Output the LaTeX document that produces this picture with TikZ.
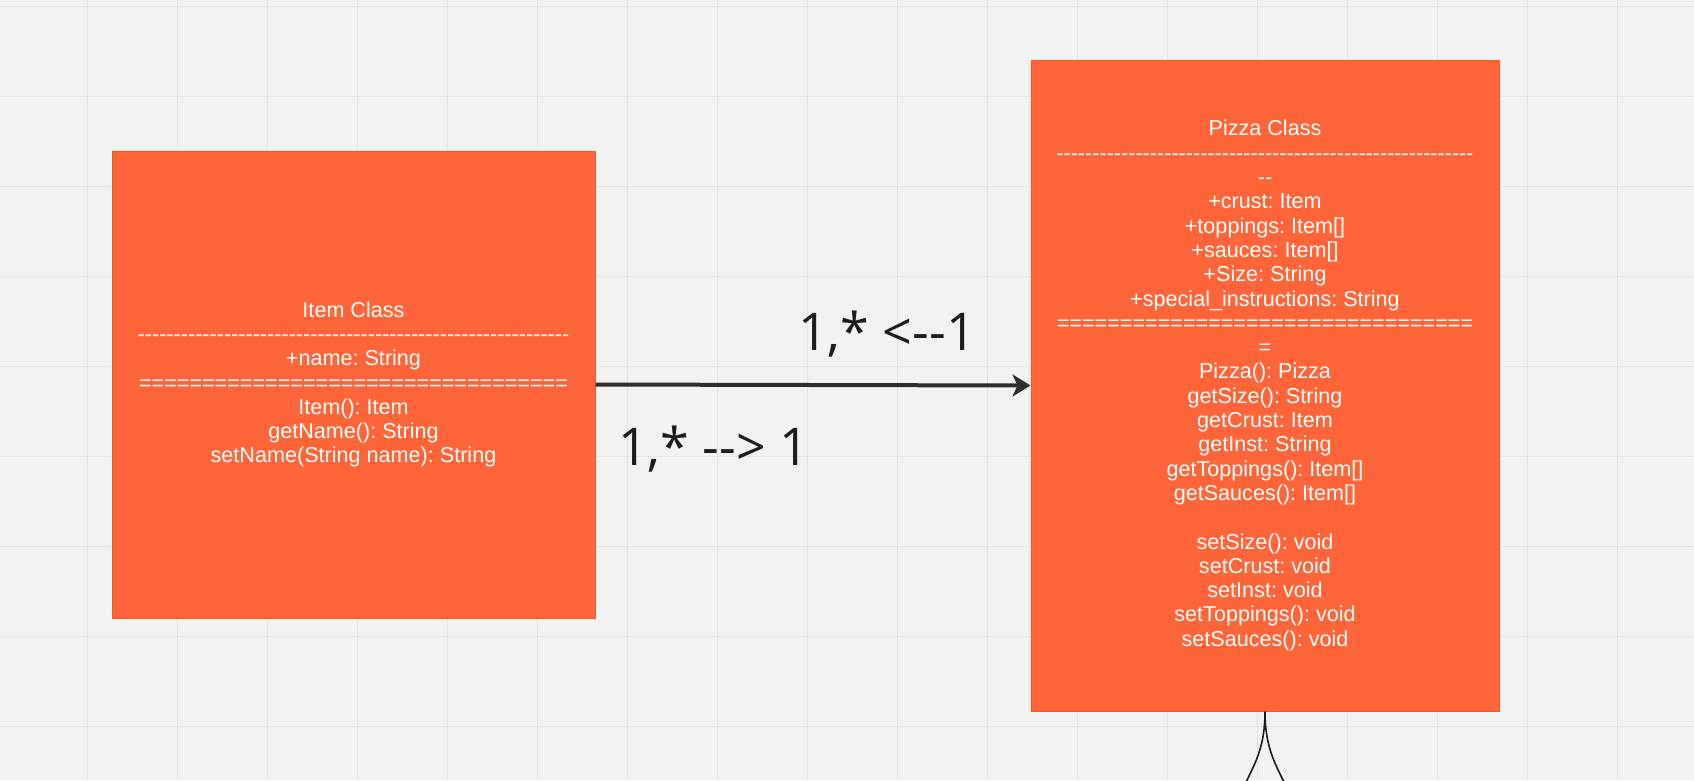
\documentclass[tikz,border=0pt]{standalone}
\usepackage{fontspec}
\newfontfamily\umlfont{Liberation Sans}
\newfontfamily\lblfont{Open Sans}
\usepackage{tikz}
\usetikzlibrary{arrows.meta}
\definecolor{canvas}{HTML}{F2F2F2}
\definecolor{gridgray}{HTML}{E3E3E3}
\definecolor{boxorange}{HTML}{FF6539}
\definecolor{boxedge}{HTML}{F7561F}
\definecolor{linkgray}{HTML}{2E2E2E}
\definecolor{labelgray}{HTML}{1C1C1C}
\newcommand{\dashrun}[1]{\foreach \i in {1,...,#1}{-\kern0pt}}
\newcommand{\eqrun}[1]{\foreach \i in {1,...,#1}{=}}
\frenchspacing

\begin{document}
\begin{tikzpicture}[x={(1pt,0pt)}, y={(0pt,-1pt)},
        >={Stealth[length=18pt,width=22pt,inset=5pt]},
        umlbox/.style={draw=boxedge, line width=1pt, fill=boxorange, text=white,
            inner sep=0pt, align=center, font=\umlfont\fontsize{21.6}{24.3}\selectfont},
        gridline/.style={draw=gridgray, line width=1.3pt},
        mult/.style={text=labelgray, inner sep=0pt, anchor=base west,
            font=\lblfont\fontsize{52}{62}\selectfont}]
        \fill[canvas] (0,0) rectangle (1694,780);
        \useasboundingbox (0,0) rectangle (1694,780);
        \foreach \k in {0,...,17} \draw[gridline] ({87.3+90*\k},0) -- ({87.3+90*\k},780);
        \foreach \k in {0,...,8} \draw[gridline] (0,{6.3+90*\k}) -- (1694,{6.3+90*\k});

        \node[umlbox, minimum width=483pt, minimum height=467pt] (item) at (353.5,384.5)
            {Item Class\\ \dashrun{60}\\ +name: String\\ \eqrun{34}\\
             Item(): Item\\ getName(): String\\ setName(String name): String};
        \node[umlbox, minimum width=468pt, minimum height=651pt] (pizza) at (1265,385.5)
            {Pizza Class\\ \dashrun{58}\\ \dashrun{2}\\ +crust: Item\\ +toppings: Item[]\\
             +sauces: Item[]\\ +Size: String\\ +special\_instructions: String\\
             \eqrun{33}\\ =\\ Pizza(): Pizza\\ getSize(): String\\ getCrust: Item\\
             getInst: String\\ getToppings(): Item[]\\ getSauces(): Item[]\\[24.3pt]
             setSize(): void\\ setCrust: void\\ setInst: void\\ setToppings(): void\\
             setSauces(): void};

        \draw[->, line width=4pt, linkgray] (item.east) -- (pizza.west);
        \node[mult] (lblback) at (798,350) {1,* <-\kern0pt-1};
        \node[mult] (lblfwd) at (618,465) {1,* -\kern0pt-> 1};

        \draw[line width=1.6pt, labelgray] (pizza.south) .. controls (1265,745) and (1256,762) .. (1246,782);
        \draw[line width=1.6pt, labelgray] (pizza.south) .. controls (1265,745) and (1274,762) .. (1284,782);
    \end{tikzpicture}
\end{document}
